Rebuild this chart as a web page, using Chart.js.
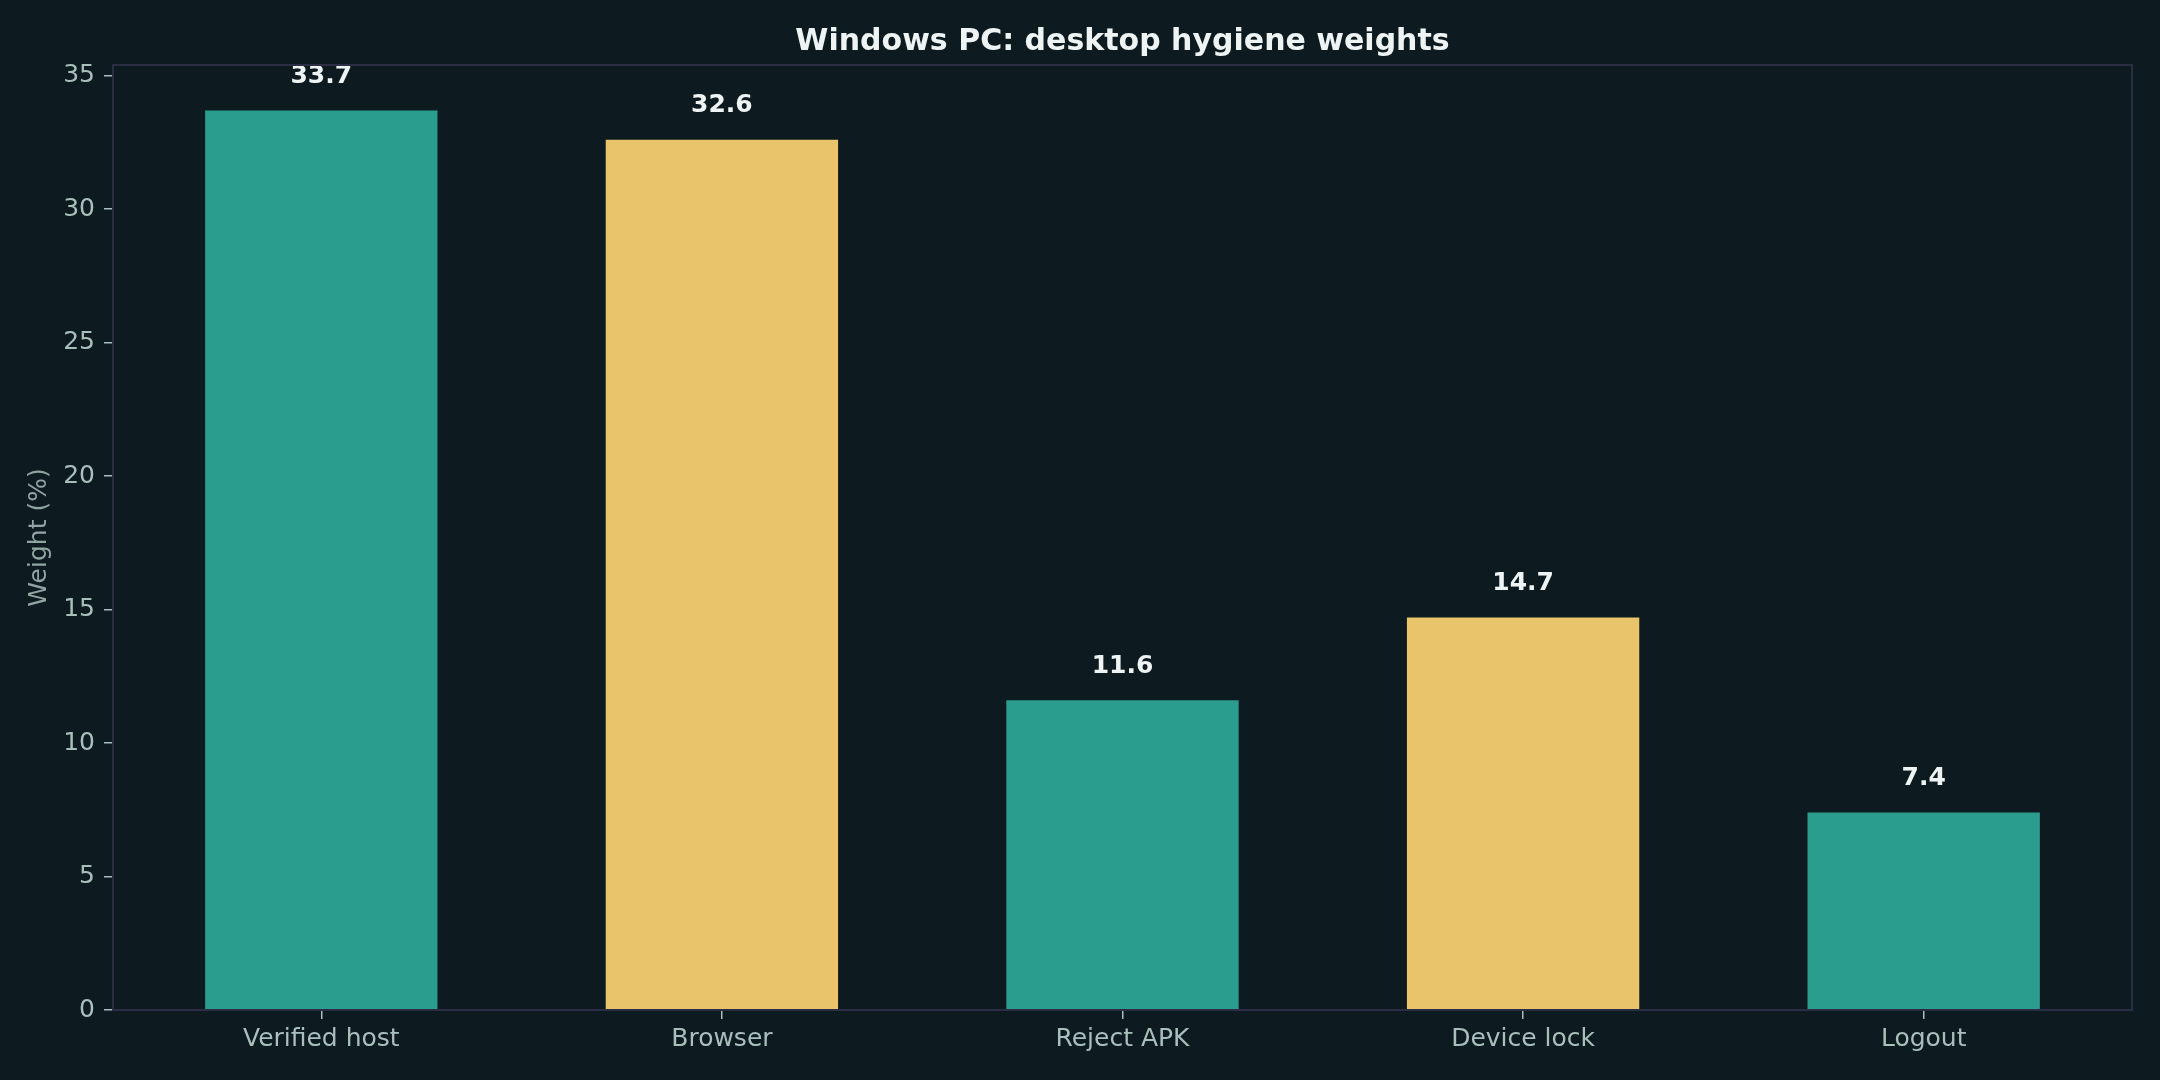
<!DOCTYPE html>
<html>
<head>
<meta charset="utf-8">
<script src="https://cdn.jsdelivr.net/npm/chart.js@4"></script>
<style>
	html, body { margin: 0; padding: 0; background: #0d1a1f; }
	#wrap { width: 2160px; height: 1080px; }
</style>
</head>
<body>
<div id="wrap"><canvas id="weightsChart"></canvas></div>
<script>
const chartTitle = "Windows PC: desktop hygiene weights";
const categories = ["Verified host", "Browser", "Reject APK", "Device lock", "Logout"];
const weights = [33.7, 32.6, 11.6, 14.7, 7.4];
const barColors = ["#2a9d8f", "#e9c46a", "#2a9d8f", "#e9c46a", "#2a9d8f"];
const yTicks = [0, 5, 10, 15, 20, 25, 30, 35];

const fontFamily = "'DejaVu Sans', sans-serif";
const spineColor = "#2b2d45";
const tickColor = "#a9bfbb";

// title centred on the plot, value labels above each bar, frame around the plot area
const barLabels = {
	id: "barLabels",
	afterDatasetsDraw(chart) {
		const ctx = chart.ctx;
		const a = chart.chartArea;
		const meta = chart.getDatasetMeta(0);
		ctx.save();
		ctx.textAlign = "center";
		ctx.textBaseline = "middle";
		ctx.fillStyle = "#eef4f4";

		ctx.font = `bold 30px ${fontFamily}`;
		ctx.fillText(chartTitle, (a.left + a.right) / 2, 42);

		ctx.font = `bold 25px ${fontFamily}`;
		meta.data.forEach((bar, i) => {
			ctx.fillText(weights[i].toFixed(1), bar.x, bar.y - 34);
		});

		ctx.strokeStyle = spineColor;
		ctx.lineWidth = 2;
		ctx.strokeRect(a.left, a.top, a.right - a.left, a.bottom - a.top);
		ctx.restore();
	}
};

new Chart(document.getElementById("weightsChart"), {
	type: "bar",
	data: {
		datasets: [{
			label: "Weight",
			data: weights.map((v, i) => ({ x: i, y: v })),
			backgroundColor: barColors,
			barPercentage: 0.58,
			categoryPercentage: 1.0
		}]
	},
	options: {
		responsive: true,
		maintainAspectRatio: false,
		animation: false,
		devicePixelRatio: 1,
		layout: { padding: { left: 0, right: 28, top: 65, bottom: 0 } },
		plugins: {
			legend: { display: false },
			tooltip: { enabled: false },
			title: { display: false }
		},
		scales: {
			x: {
				type: "linear",
				offset: false,
				min: -0.52,
				max: categories.length - 0.48,
				afterBuildTicks(scale) { scale.ticks = categories.map((c, i) => ({ value: i })); },
				grid: { drawOnChartArea: false, offset: false, color: tickColor, tickLength: 9, lineWidth: 1.5 },
				border: { color: spineColor, width: 2 },
				ticks: {
					color: tickColor,
					font: { family: fontFamily, size: 25 },
					padding: 5,
					callback: v => categories[v]
				},
				afterFit(scale) { scale.height = 70; }
			},
			y: {
				min: 0,
				max: 35.4,
				afterBuildTicks(scale) { scale.ticks = yTicks.map(v => ({ value: v })); },
				grid: { drawOnChartArea: false, color: tickColor, tickLength: 9, lineWidth: 1.5 },
				border: { color: spineColor, width: 2 },
				ticks: { color: tickColor, font: { family: fontFamily, size: 25 }, padding: 9 },
				title: {
					display: true,
					text: "Weight (%)",
					color: "#90a4a2",
					font: { family: fontFamily, size: 25 },
					padding: { top: 24, bottom: 0 }
				},
				afterFit(scale) { scale.width = 113; }
			}
		}
	},
	plugins: [barLabels]
});
</script>
</body>
</html>
